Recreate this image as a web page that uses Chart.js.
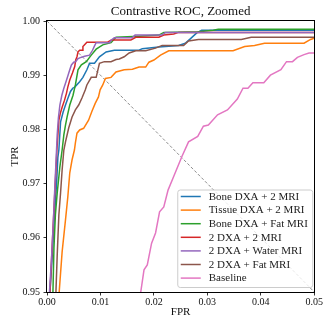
<!DOCTYPE html>
<html><head><meta charset="utf-8">
<script src="https://cdn.jsdelivr.net/npm/chart.js@4/dist/chart.umd.min.js"></script>
<style>html,body{margin:0;padding:0;background:#fff;overflow:hidden}#wrap{width:324px;height:323px;position:relative}</style>
</head><body><div id="wrap"><canvas id="c" width="324" height="323"></canvas></div>
<script>
const seriesNames = ["Bone DXA + 2 MRI","Tissue DXA + 2 MRI","Bone DXA + Fat MRI","2 DXA + 2 MRI","2 DXA + Water MRI","2 DXA + Fat MRI","Baseline"];
const seriesColors = ["#1f77b4","#ff7f0e","#2ca02c","#d62728","#9467bd","#8c564b","#e377c2"];

const fprBone2MRI = [0.00056,0.00093,0.00143,0.00180,0.00204,0.00222,0.00254,0.00302,0.00346,0.00389,0.00439,0.00481,0.00519,0.00611,0.00672,0.00746,0.00796,0.00889,0.00981,0.01106,0.01259,0.01722,0.01783,0.02093,0.02463,0.02587,0.02680,0.02802,0.02894,0.0506];
const tprBone2MRI = [0.9500,0.9559,0.9646,0.9701,0.9749,0.9762,0.9814,0.9832,0.9845,0.9857,0.9870,0.9876,0.9878,0.9888,0.9896,0.9910,0.9922,0.9922,0.9934,0.9943,0.9946,0.9946,0.9949,0.9952,0.9955,0.9959,0.9967,0.9978,0.9983,0.9983];

const fprTissue2MRI = [0.00228,0.00283,0.00346,0.00389,0.00426,0.00469,0.00513,0.00531,0.00561,0.00611,0.00685,0.00778,0.00839,0.00902,0.00963,0.00994,0.01043,0.01093,0.01198,0.01291,0.01444,0.01598,0.01722,0.01846,0.01907,0.02000,0.02124,0.02278,0.03481,0.03698,0.03883,0.04069,0.04809,0.04931,0.0506];
const tprTissue2MRI = [0.9500,0.9574,0.9633,0.9675,0.9720,0.9744,0.9762,0.9775,0.9793,0.9799,0.9802,0.9817,0.9833,0.9848,0.9860,0.9873,0.9882,0.9894,0.9896,0.9906,0.9910,0.9911,0.9915,0.9915,0.9924,0.9928,0.9937,0.9945,0.9945,0.9953,0.9955,0.9959,0.9959,0.9966,0.9970];

const fprBoneFat = [0.00111,0.00130,0.00157,0.00191,0.00241,0.00283,0.00315,0.00346,0.00376,0.00426,0.00487,0.00531,0.00580,0.00643,0.00735,0.00828,0.00920,0.01043,0.01198,0.01291,0.01722,0.02093,0.02185,0.02833,0.03111,0.03204,0.0506];
const tprBoneFat = [0.9500,0.9581,0.9642,0.9683,0.9731,0.9762,0.9790,0.9808,0.9823,0.9845,0.9863,0.9882,0.9910,0.9919,0.9925,0.9937,0.9948,0.9956,0.9960,0.9970,0.9972,0.9974,0.9979,0.9980,0.9983,0.9985,0.9985];

const fpr2DXA2MRI = [0.00056,0.00111,0.00148,0.00185,0.00222,0.00250,0.00283,0.00328,0.00365,0.00389,0.00426,0.00476,0.00519,0.00537,0.00561,0.00580,0.00611,0.00661,0.00672,0.00746,0.01135,0.01204,0.01569,0.01661,0.02093,0.02185,0.02370,0.02463,0.0506];
const tpr2DXA2MRI = [0.9500,0.9614,0.9688,0.9762,0.9817,0.9830,0.9841,0.9854,0.9867,0.9878,0.9891,0.9904,0.9916,0.9928,0.9934,0.9943,0.9946,0.9946,0.9953,0.9961,0.9961,0.9965,0.9965,0.9970,0.9970,0.9974,0.9976,0.9979,0.9979];

const fpr2DXAWater = [0.00046,0.00083,0.00120,0.00148,0.00170,0.00191,0.00213,0.00241,0.00278,0.00315,0.00352,0.00394,0.00426,0.00457,0.00500,0.00537,0.00574,0.00611,0.00704,0.00796,0.00852,0.00889,0.00920,0.01167,0.01204,0.01259,0.01593,0.01648,0.02148,0.02217,0.0506];
const tpr2DXAWater = [0.9500,0.9559,0.9633,0.9697,0.9744,0.9790,0.9821,0.9845,0.9863,0.9876,0.9887,0.9900,0.9910,0.9919,0.9924,0.9925,0.9930,0.9932,0.9935,0.9937,0.9946,0.9954,0.9960,0.9960,0.9965,0.9969,0.9969,0.9974,0.9974,0.9979,0.9979];

const fpr2DXAFat = [0.00167,0.00191,0.00222,0.00254,0.00283,0.00315,0.00346,0.00407,0.00469,0.00531,0.00593,0.00654,0.00717,0.00746,0.00828,0.00920,0.00981,0.01074,0.01198,0.01291,0.01352,0.01444,0.01537,0.01661,0.01846,0.02031,0.02154,0.02556,0.02648,0.02833,0.03635,0.03820,0.0506];
const tpr2DXAFat = [0.9500,0.9568,0.9642,0.9683,0.9725,0.9762,0.9777,0.9803,0.9823,0.9836,0.9845,0.9858,0.9873,0.9882,0.9896,0.9896,0.9922,0.9925,0.9925,0.9929,0.9930,0.9934,0.9941,0.9945,0.9945,0.9950,0.9955,0.9955,0.9963,0.9966,0.9966,0.9970,0.9970];

const fprBaseline = [0.01700,0.01754,0.01815,0.01876,0.01957,0.02031,0.02106,0.02185,0.02265,0.02370,0.02524,0.02648,0.02820,0.02926,0.03019,0.03191,0.03376,0.03561,0.03667,0.03759,0.03852,0.04056,0.04180,0.04376,0.04481,0.04593,0.04685,0.04809,0.04902,0.0506];
const tprBaseline = [0.9450,0.9500,0.9541,0.9550,0.9590,0.9609,0.9648,0.9657,0.9688,0.9713,0.9750,0.9777,0.9787,0.9806,0.9808,0.9827,0.9836,0.9856,0.9876,0.9876,0.9886,0.9886,0.9900,0.9910,0.9925,0.9925,0.9933,0.9938,0.9941,0.9941];

const diagFpr = [0, 0.05];
const diagTpr = [1.0, 0.95];

const xTickValues = [0, 0.01, 0.02, 0.03, 0.04, 0.05];
const yTickValues = [0.95, 0.96, 0.97, 0.98, 0.99, 1.00];

const seriesFpr = [fprBone2MRI, fprTissue2MRI, fprBoneFat, fpr2DXA2MRI, fpr2DXAWater, fpr2DXAFat, fprBaseline];
const seriesTpr = [tprBone2MRI, tprTissue2MRI, tprBoneFat, tpr2DXA2MRI, tpr2DXAWater, tpr2DXAFat, tprBaseline];

const FONT = "'Liberation Serif', 'Times New Roman', serif";
const zip = (xs, ys) => xs.map((x, i) => ({x: x, y: ys[i]}));

const datasets = [{
  label: '_diag', data: zip(diagFpr, diagTpr), showLine: true, borderColor: '#808080',
  borderWidth: 0.9, borderDash: [3, 2], pointRadius: 0, order: 100, clip: 0, inLegend: false
}];
seriesNames.forEach((name, i) => {
  datasets.push({
    label: name, data: zip(seriesFpr[i], seriesTpr[i]), showLine: true,
    borderColor: seriesColors[i], backgroundColor: seriesColors[i], borderWidth: 1.5,
    pointRadius: 0, tension: 0, order: 50 - i, clip: 0, inLegend: true
  });
});

const framePlugin = {
  id: 'frame',
  afterDraw(chart) {
    const {ctx, chartArea: a} = chart;
    ctx.save();
    ctx.strokeStyle = '#000'; ctx.lineWidth = 1;
    ctx.strokeRect(Math.round(a.left) - 0.5, Math.round(a.top) - 0.5, Math.round(a.right - a.left) + 1, Math.round(a.bottom - a.top) + 1);
    ctx.restore();
  }
};

const legendPlugin = {
  id: 'boxLegend',
  afterDraw(chart) {
    const {ctx, chartArea: a} = chart;
    const items = chart.data.datasets.filter(d => d.inLegend);
    const rowH = 13.6, w = 135, h = 97.5;
    const right = a.right - 1.5, bottom = a.bottom - 4.5;
    const left = right - w, top = bottom - h;
    ctx.save();
    ctx.beginPath();
    const r = 2.5;
    ctx.moveTo(left + r, top);
    ctx.arcTo(right, top, right, bottom, r);
    ctx.arcTo(right, bottom, left, bottom, r);
    ctx.arcTo(left, bottom, left, top, r);
    ctx.arcTo(left, top, right, top, r);
    ctx.closePath();
    ctx.fillStyle = 'rgba(255,255,255,0.8)';
    ctx.fill();
    ctx.strokeStyle = '#cccccc'; ctx.lineWidth = 1;
    ctx.stroke();
    ctx.font = "11px " + FONT;
    ctx.textBaseline = 'middle';
    ctx.fillStyle = '#222';
    items.forEach((d, i) => {
      const y = top + 6.5 + rowH * i;
      ctx.beginPath();
      ctx.strokeStyle = d.borderColor; ctx.lineWidth = 1.5;
      ctx.moveTo(left + 3, y); ctx.lineTo(left + 23, y); ctx.stroke();
      ctx.fillText(d.label, left + 31, y + 0.5);
    });
    ctx.restore();
  }
};

new Chart(document.getElementById('c'), {
  type: 'scatter',
  data: {datasets: datasets},
  plugins: [framePlugin, legendPlugin],
  options: {
    responsive: false, animation: false, devicePixelRatio: 1,
    layout: {padding: {left: 0, right: 7, top: 0, bottom: 0}, autoPadding: false},
    plugins: {
      legend: {display: false}, tooltip: {enabled: false},
      title: {display: true, text: 'Contrastive ROC, Zoomed', color: '#111', fullSize: false,
        font: {family: FONT, size: 13, weight: 'normal'}, padding: {top: 4, bottom: 1.4}}
    },
    scales: {
      x: {
        type: 'linear', min: 0, max: 0.05,
        afterBuildTicks: s => { s.ticks = xTickValues.map(v => ({value: v})); },
        afterFit: s => { s.height = 31; },
        ticks: {color: '#111', font: {family: FONT, size: 10}, padding: 1, maxRotation: 0,
          callback: v => Number(v).toFixed(2)},
        grid: {drawOnChartArea: false, drawTicks: true, tickLength: 3.5, color: '#000', tickWidth: 0.8},
        border: {display: false},
        title: {display: true, text: 'FPR', color: '#111', font: {family: FONT, size: 11}, padding: {top: 0, bottom: 4}}
      },
      y: {
        type: 'linear', min: 0.95, max: 1.0,
        afterBuildTicks: s => { s.ticks = yTickValues.map(v => ({value: v})); },
        afterFit: s => { s.width = 47; },
        ticks: {color: '#111', font: {family: FONT, size: 10}, padding: 3.5,
          callback: v => Number(v).toFixed(2)},
        grid: {drawOnChartArea: false, drawTicks: true, tickLength: 3.5, color: '#000', tickWidth: 0.8},
        border: {display: false},
        title: {display: true, text: 'TPR', color: '#111', font: {family: FONT, size: 11}, padding: {top: 8.5, bottom: 0}}
      }
    }
  }
});
</script></body></html>
